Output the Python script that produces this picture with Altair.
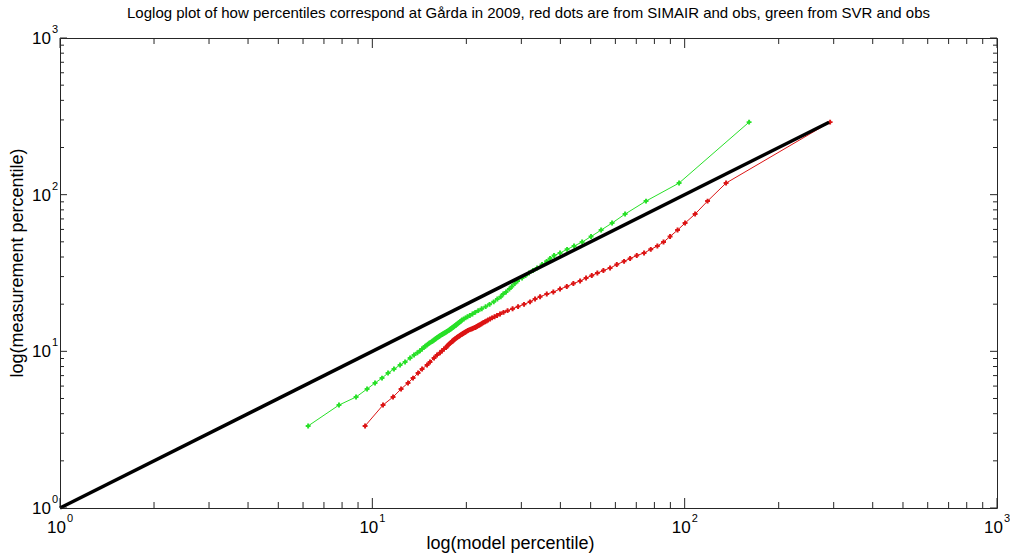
import altair as alt
import pandas as pd

TITLE = ("Loglog plot of how percentiles correspond at Gårda in 2009, "
         "red dots are from SIMAIR and obs, green from SVR and obs")
X_TITLE = "log(model percentile)"
Y_TITLE = "log(measurement percentile)"

# measurement (obs) percentiles, shared by both series
obs = [3.34, 4.54, 5.11, 5.75, 6.28, 6.75, 7.27, 7.71, 8.18, 8.55, 9.06, 9.47,
       9.80, 10.09, 10.34, 10.58, 10.78, 10.96, 11.12, 11.26,
       11.40, 11.53, 11.65, 11.77, 11.88, 11.98, 12.09, 12.18, 12.27, 12.36,
       12.45, 12.54, 12.64, 12.73, 12.82, 12.91, 13.01, 13.10, 13.20, 13.30,
       13.40, 13.50, 13.60, 13.70, 13.80, 13.90, 14.00, 14.11, 14.21, 14.31,
       14.42, 14.53, 14.63, 14.74, 14.87, 15.00, 15.14, 15.29, 15.45, 15.63,
       15.84, 16.07, 16.34, 16.63, 16.95, 17.32, 17.74, 18.18, 18.70, 19.29,
       19.95, 20.70, 21.57, 22.31, 23.21, 23.90, 24.98, 25.92, 27.09, 28.10,
       29.37, 30.46, 31.60, 32.78, 34.01, 35.81, 37.54, 39.11, 40.88, 42.41,
       44.78, 46.99, 49.83, 54.05, 59.45, 65.89, 75.20, 91.01, 118.6, 290.5]

# SIMAIR model percentiles (red)
simair = [9.48, 10.82, 11.65, 12.36, 13.01, 13.50, 14.01, 14.43, 14.97, 15.30, 15.76, 16.11,
          16.47, 16.72, 16.96, 17.22, 17.35, 17.48, 17.60, 17.74,
          17.87, 18.00, 18.07, 18.17, 18.27, 18.40, 18.51, 18.60, 18.67, 18.77,
          18.88, 18.98, 19.09, 19.19, 19.30, 19.40, 19.52, 19.63, 19.76, 19.88,
          20.00, 20.14, 20.25, 20.43, 20.60, 20.78, 20.96, 21.13, 21.32, 21.48,
          21.61, 21.76, 21.88, 22.03, 22.21, 22.37, 22.54, 22.70, 22.96, 23.21,
          23.47, 23.82, 24.17, 24.62, 25.08, 25.64, 26.31, 27.10, 28.12, 29.28,
          30.60, 31.99, 33.19, 34.44, 36.18, 37.98, 39.90, 41.94, 44.02, 46.26,
          48.34, 50.42, 52.54, 54.93, 57.70, 60.63, 63.97, 66.88, 70.25, 74.13,
          77.89, 81.77, 85.57, 89.80, 94.9, 100.3, 108.0, 118.4, 135.7, 292.2]

# SVR model percentiles (green)
svr = [6.23, 7.82, 8.87, 9.62, 10.20, 10.74, 11.23, 11.73, 12.27, 12.73, 13.21, 13.60,
       13.94, 14.21, 14.43, 14.60, 14.78, 14.93, 15.07, 15.21,
       15.35, 15.49, 15.60, 15.73, 15.82, 15.91, 16.01, 16.09, 16.17, 16.26,
       16.34, 16.43, 16.52, 16.62, 16.72, 16.82, 16.92, 17.03, 17.13, 17.24,
       17.35, 17.45, 17.57, 17.64, 17.74, 17.81, 17.91, 18.00, 18.08, 18.17,
       18.27, 18.35, 18.44, 18.53, 18.63, 18.74, 18.84, 18.96, 19.09, 19.23,
       19.37, 19.62, 19.88, 20.17, 20.52, 20.92, 21.35, 21.83, 22.40, 23.06,
       23.73, 24.47, 25.13, 25.77, 26.25, 26.80, 27.46, 27.97, 28.58, 29.17,
       30.16, 30.94, 31.75, 32.70, 33.69, 34.95, 36.15, 37.07, 38.18, 39.90,
       42.03, 44.24, 46.95, 50.15, 54.01, 58.56, 64.45, 75.22, 95.96, 160.8]

ref_line = [1, 290]
decades = [1, 10, 100, 1000]
exponents = ["0", "1", "2", "3"]
minor_mult = [2, 3, 4, 5, 6, 7, 8, 9]
minor = [m * d for d in [1, 10, 100] for m in minor_mult]

W, H = 937, 470
FONT = "Liberation Sans"
RED = "#dc1414"
GREEN = "#28e028"
FRAME = "#262626"

xs = alt.Scale(type="log", domain=[1, 1000], nice=False)
ys = alt.Scale(type="log", domain=[1, 1000], nice=False)

red_df = pd.DataFrame({"model": simair, "meas": obs})
green_df = pd.DataFrame({"model": svr, "meas": obs})
ref_df = pd.DataFrame({"model": ref_line, "meas": ref_line})
maj_df = pd.DataFrame({"v": decades, "e": exponents, "t": ["10"] * 4})
min_df = pd.DataFrame({"v": minor})
txt_df = pd.DataFrame({"title": [TITLE], "xt": [X_TITLE], "yt": [Y_TITLE]})

X = alt.X("model:Q", scale=xs, axis=None)
Y = alt.Y("meas:Q", scale=ys, axis=None)

red_line = alt.Chart(red_df).mark_line(color=RED, strokeWidth=1).encode(x=X, y=Y)
red_pts = alt.Chart(red_df).mark_point(shape="cross", filled=True, size=24, color=RED,
                                       opacity=1).encode(x=X, y=Y)
green_line = alt.Chart(green_df).mark_line(color=GREEN, strokeWidth=1).encode(x=X, y=Y)
green_pts = alt.Chart(green_df).mark_point(shape="cross", filled=True, size=24, color=GREEN,
                                           opacity=1).encode(x=X, y=Y)
black = alt.Chart(ref_df).mark_line(color="black", strokeWidth=3.5).encode(x=X, y=Y)


def xticks(df, length):
    b = alt.Chart(df).mark_rule(color=FRAME, strokeWidth=1).encode(
        x=alt.X("v:Q", scale=xs, axis=None), y=alt.value(H), y2=alt.value(H - length))
    t = alt.Chart(df).mark_rule(color=FRAME, strokeWidth=1).encode(
        x=alt.X("v:Q", scale=xs, axis=None), y=alt.value(0), y2=alt.value(length))
    return b + t


def yticks(df, length):
    l = alt.Chart(df).mark_rule(color=FRAME, strokeWidth=1).encode(
        y=alt.Y("v:Q", scale=ys, axis=None), x=alt.value(0), x2=alt.value(length))
    r = alt.Chart(df).mark_rule(color=FRAME, strokeWidth=1).encode(
        y=alt.Y("v:Q", scale=ys, axis=None), x=alt.value(W), x2=alt.value(W - length))
    return l + r


ticks = xticks(min_df, 6) + xticks(maj_df, 10) + yticks(min_df, 4) + yticks(maj_df, 7)

xlab = alt.Chart(maj_df).mark_text(font=FONT, fontSize=17, align="right", baseline="alphabetic",
                                   dx=6, color="black").encode(
    x=alt.X("v:Q", scale=xs, axis=None), y=alt.value(H + 25), text="t:N")
xexp = alt.Chart(maj_df).mark_text(font=FONT, fontSize=11, align="left", baseline="alphabetic",
                                   dx=7, color="black").encode(
    x=alt.X("v:Q", scale=xs, axis=None), y=alt.value(H + 14), text="e:N")
ylab = alt.Chart(maj_df).mark_text(font=FONT, fontSize=17, align="right", baseline="alphabetic",
                                   dy=6, color="black").encode(
    y=alt.Y("v:Q", scale=ys, axis=None), x=alt.value(-9), text="t:N")
yexp = alt.Chart(maj_df).mark_text(font=FONT, fontSize=11, align="left", baseline="alphabetic",
                                   dy=-5, color="black").encode(
    y=alt.Y("v:Q", scale=ys, axis=None), x=alt.value(-8), text="e:N")

title = alt.Chart(txt_df).mark_text(font=FONT, fontSize=15, align="center",
                                    baseline="alphabetic", color="black").encode(
    x=alt.value(W / 2), y=alt.value(-20), text="title:N")
xtitle = alt.Chart(txt_df).mark_text(font=FONT, fontSize=18, align="center",
                                     baseline="alphabetic", color="black").encode(
    x=alt.value(W / 2 - 18), y=alt.value(H + 41), text="xt:N")
ytitle = alt.Chart(txt_df).mark_text(font=FONT, fontSize=18, align="center", angle=270,
                                     baseline="middle", color="black").encode(
    x=alt.value(-42), y=alt.value(H / 2 - 10), text="yt:N")

chart = alt.layer(
    red_line, red_pts, green_line, green_pts, black, ticks,
    xlab, xexp, ylab, yexp, title, xtitle, ytitle
).properties(
    width=W, height=H,
    autosize=alt.AutoSizeParams(type="none"),
    padding={"left": 60, "top": 38, "right": 13, "bottom": 45},
    background="white",
).configure_view(stroke=FRAME, strokeWidth=1)

chart.save("out.html", embed_options={"renderer": "svg", "actions": False})
